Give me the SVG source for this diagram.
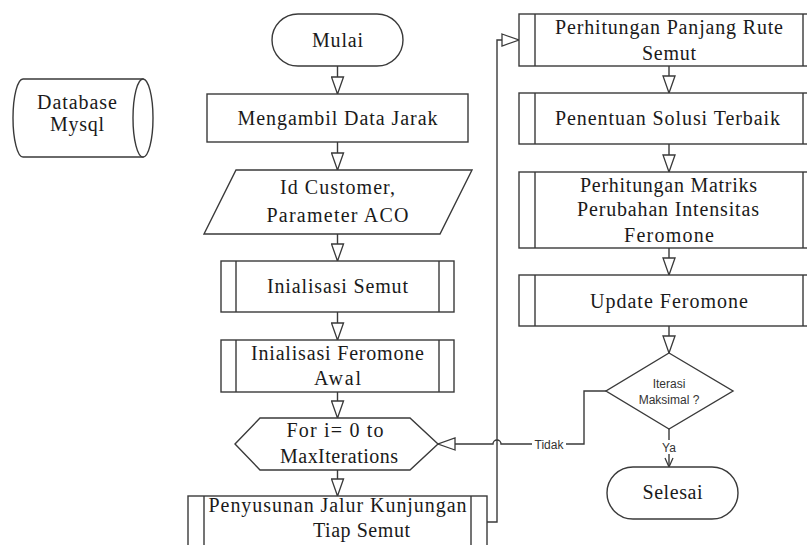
<svg xmlns="http://www.w3.org/2000/svg" width="807" height="545" viewBox="0 0 807 545">
<defs>
<style>
.s{fill:#fff;stroke:#3a3a3a;stroke-width:1.4}
.t{font-family:"Liberation Serif","Times New Roman",serif;font-size:20px;fill:#1a1a1a;text-anchor:middle}
.l{font-family:"Liberation Sans",Arial,sans-serif;font-size:12px;fill:#333;text-anchor:middle}
.c{fill:none;stroke:#3a3a3a;stroke-width:1.4}
</style>
<marker id="tri" markerUnits="userSpaceOnUse" markerWidth="20" markerHeight="14" refX="17" refY="6" orient="auto" viewBox="-1 -1 20 14">
<path d="M0,0 L17,6 L0,12 Z" fill="#fff" stroke="#3a3a3a" stroke-width="1.3"/>
</marker>
<marker id="vee" markerUnits="userSpaceOnUse" markerWidth="12" markerHeight="12" refX="9" refY="4" orient="auto" viewBox="-1 -1 12 10">
<path d="M0,0 L9,4 L0,8" fill="none" stroke="#3a3a3a" stroke-width="1.3"/>
</marker>
</defs>
<rect width="807" height="545" fill="#fff"/>

<g id="connectors">
<path class="c" d="M337.5,66 V94" marker-end="url(#tri)"/>
<path class="c" d="M337.5,142 V170" marker-end="url(#tri)"/>
<path class="c" d="M337.5,234 V261" marker-end="url(#tri)"/>
<path class="c" d="M337.5,312 V340" marker-end="url(#tri)"/>
<path class="c" d="M337.5,392 V418" marker-end="url(#tri)"/>
<path class="c" d="M337.5,470 V496" marker-end="url(#tri)"/>
<path class="c" d="M487,522 H497 V40 H519" marker-end="url(#tri)"/>
<path class="c" d="M669,66 V93" marker-end="url(#tri)"/>
<path class="c" d="M669,144 V172" marker-end="url(#tri)"/>
<path class="c" d="M669,248 V275" marker-end="url(#tri)"/>
<path class="c" d="M669,326 V353" marker-end="url(#tri)"/>
<path class="c" d="M606,391 H584 V444 H501 A4,4 0 0 0 493,444 H438" marker-end="url(#tri)"/>
<path class="c" d="M669,429 V467" marker-end="url(#vee)"/>
<rect x="532" y="437" width="34" height="14" fill="#fff"/>
<text class="l" x="549" y="448.5">Tidak</text>
<rect x="660" y="440" width="18" height="14" fill="#fff"/>
<text class="l" x="669" y="452">Ya</text>
</g>

<g id="database">
<path class="s" d="M23,79 H143 V157 H23 A10,39 0 0 1 23,79 Z"/>
<ellipse class="s" cx="143" cy="118" rx="10" ry="39"/>
<text class="t" x="77" y="109" font-size="19" textLength="80" lengthAdjust="spacing">Database</text>
<text class="t" x="77" y="131" font-size="19" textLength="54" lengthAdjust="spacing">Mysql</text>
</g>

<g id="mulai">
<rect class="s" x="272" y="14" width="131" height="52" rx="26"/>
<text class="t" x="337.5" y="47" textLength="51" lengthAdjust="spacing">Mulai</text>
</g>

<g id="ambil-data">
<rect class="s" x="207" y="94" width="261" height="48"/>
<text class="t" x="337.5" y="125" textLength="200" lengthAdjust="spacing">Mengambil Data Jarak</text>
</g>

<g id="input">
<polygon class="s" points="236,170 472,170 440,234 204,234"/>
<text class="t" x="337.5" y="194" textLength="115" lengthAdjust="spacing">Id Customer,</text>
<text class="t" x="337.5" y="222" textLength="142" lengthAdjust="spacing">Parameter ACO</text>
</g>

<g id="init-semut">
<rect class="s" x="221" y="261" width="233" height="51"/>
<path class="c" d="M236,261 V312 M439,261 V312"/>
<text class="t" x="337.5" y="293" textLength="141" lengthAdjust="spacing">Inialisasi Semut</text>
</g>

<g id="init-feromone">
<rect class="s" x="221" y="340" width="233" height="52"/>
<path class="c" d="M236,340 V392 M439,340 V392"/>
<text class="t" x="337.5" y="360" textLength="173" lengthAdjust="spacing">Inialisasi Feromone</text>
<text class="t" x="337.5" y="385" textLength="47" lengthAdjust="spacing">Awal</text>
</g>

<g id="loop">
<polygon class="s" points="235,444 260,418 410,418 438,444 410,470 260,470"/>
<text class="t" x="335" y="437" textLength="97" lengthAdjust="spacing">For i= 0 to</text>
<text class="t" x="339" y="463" textLength="118" lengthAdjust="spacing">MaxIterations</text>
</g>

<g id="penyusunan">
<rect class="s" x="188" y="496" width="299" height="60"/>
<path class="c" d="M204,496 V556 M471,496 V556"/>
<text class="t" x="337.5" y="512" textLength="258" lengthAdjust="spacing">Penyusunan Jalur Kunjungan</text>
<text class="t" x="361.5" y="537" textLength="97" lengthAdjust="spacing">Tiap Semut</text>
</g>

<g id="panjang-rute">
<rect class="s" x="519" y="14" width="300" height="52"/>
<path class="c" d="M535,14 V66 M803,14 V66"/>
<text class="t" x="669" y="34" textLength="228" lengthAdjust="spacing">Perhitungan Panjang Rute</text>
<text class="t" x="669" y="60" textLength="54" lengthAdjust="spacing">Semut</text>
</g>

<g id="solusi">
<rect class="s" x="519" y="93" width="300" height="51"/>
<path class="c" d="M535,93 V144 M803,93 V144"/>
<text class="t" x="667.5" y="125" textLength="225" lengthAdjust="spacing">Penentuan Solusi Terbaik</text>
</g>

<g id="matriks">
<rect class="s" x="519" y="172" width="300" height="76"/>
<path class="c" d="M535,172 V248 M803,172 V248"/>
<text class="t" x="668.5" y="192" textLength="177" lengthAdjust="spacing">Perhitungan Matriks</text>
<text class="t" x="668" y="216" textLength="182" lengthAdjust="spacing">Perubahan Intensitas</text>
<text class="t" x="669" y="242" textLength="90" lengthAdjust="spacing">Feromone</text>
</g>

<g id="update">
<rect class="s" x="519" y="275" width="300" height="51"/>
<path class="c" d="M535,275 V326 M803,275 V326"/>
<text class="t" x="669" y="308" textLength="158" lengthAdjust="spacing">Update Feromone</text>
</g>

<g id="iterasi">
<polygon class="s" points="669,353 733,391 669,429 606,391"/>
<text class="l" x="669" y="388" font-size="11">Iterasi</text>
<text class="l" x="669" y="404" font-size="11">Maksimal ?</text>
</g>

<g id="selesai">
<rect class="s" x="607" y="467" width="131" height="52" rx="26"/>
<text class="t" x="672.5" y="499" textLength="60" lengthAdjust="spacing">Selesai</text>
</g>
</svg>
